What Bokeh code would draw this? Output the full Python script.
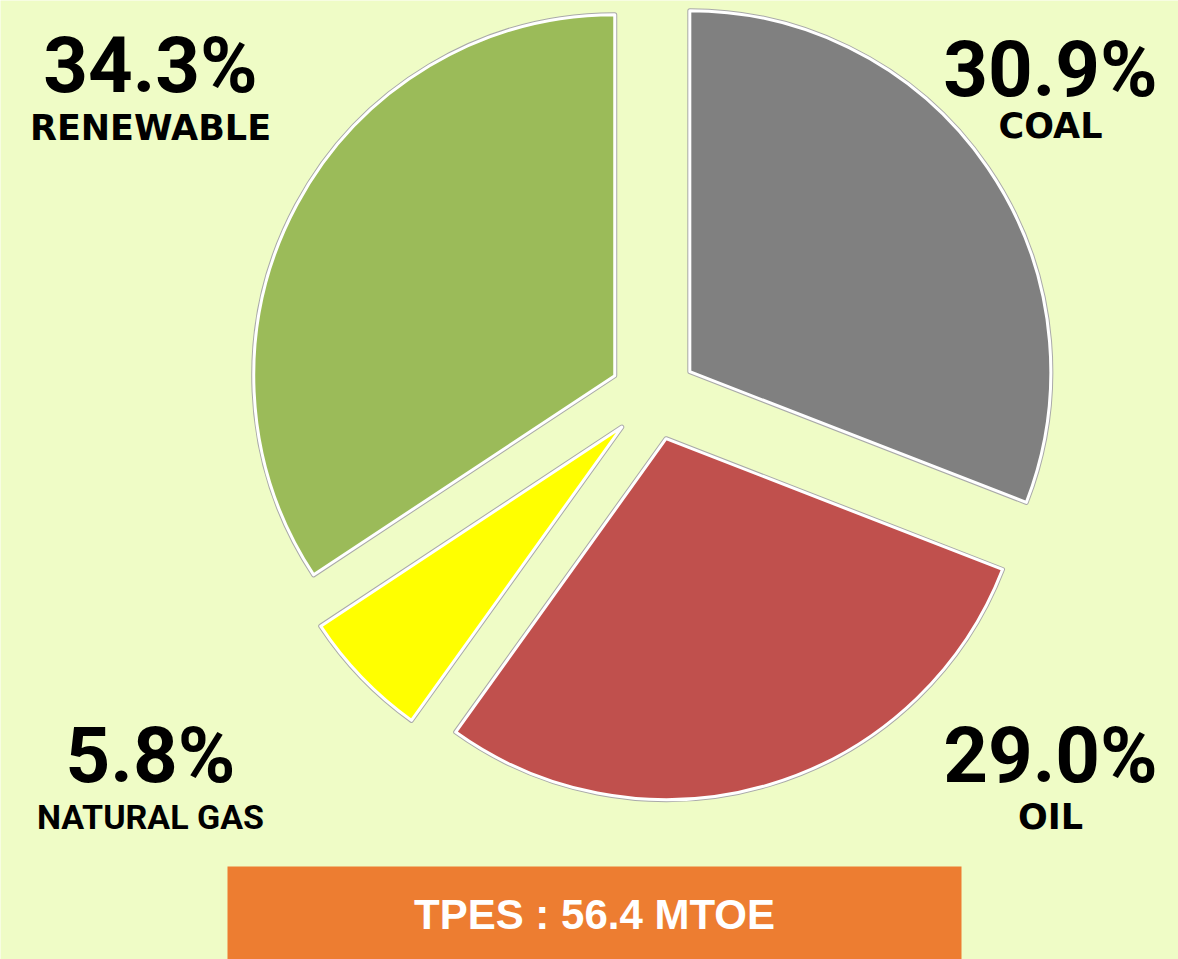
import numpy as np
from bokeh.plotting import figure
from bokeh.models import Range1d, ColumnDataSource
from bokeh.core.properties import value
from bokeh.embed import file_html
from bokeh.resources import INLINE

# ---- data ----
categories = ["COAL", "OIL", "NATURAL GAS", "RENEWABLE"]
shares = [30.9, 29.0, 5.8, 34.3]
colors = ["#808080", "#C0504D", "#FFFF00", "#9BBB59"]
share_labels = ["30.9%", "29.0%", "5.8%", "34.3%"]
total_label = "TPES : 56.4 MTOE"

# ---- layout constants ----
W, H = 1178, 959
BG = "#EFFCC6"
CX, CY = 653, H - 396
R = 361
EXPLODE = 44
SHIFT = 0.34  # baseline correction (fraction of font size)

frac = np.array(shares) / np.sum(shares)
cum = np.cumsum(frac) * 2 * np.pi
start = np.pi / 2 - np.concatenate([[0], cum[:-1]])
end = np.pi / 2 - cum
mid = (start + end) / 2

src = ColumnDataSource(dict(
    x=CX + EXPLODE * np.cos(mid),
    y=CY + EXPLODE * np.sin(mid),
    start=start, end=end, color=colors, cat=categories,
))

p = figure(width=W, height=H, x_range=Range1d(0, W), y_range=Range1d(0, H),
           output_backend="svg", toolbar_location=None, min_border=0,
           x_axis_type=None, y_axis_type=None,
           background_fill_color=BG, border_fill_color=BG, outline_line_color=None)
p.grid.visible = False

p.wedge(x="x", y="y", radius=R, start_angle="start", end_angle="end", direction="clock",
        fill_color="color", line_color="#A9A9A9", line_width=5, line_join="round", source=src)
p.wedge(x="x", y="y", radius=R, start_angle="start", end_angle="end", direction="clock",
        fill_color="color", line_color="white", line_width=3, line_join="round", source=src)


def put(x, base, txt, font, size, color="black"):
    p.text(x=[x], y=[H - (base - SHIFT * size)], text=[txt], text_font=value(font),
           text_font_style="bold", text_font_size=f"{size}px", text_align="center",
           text_baseline="alphabetic", text_color=color)


# label positions (x center, baseline in screen px) per category
lab_x = [1050, 1050, 150, 150]
pct_base = [96, 782, 782, 92]
name_base = [137, 828, 828, 139]
name_fonts = ["DejaVu Sans", "DejaVu Sans", "Roboto", "DejaVu Sans"]
name_sizes = [35, 35, 34, 35]

for i in range(4):
    put(lab_x[i], pct_base[i], share_labels[i], "Roboto", 78)
    put(lab_x[i], name_base[i], categories[i], name_fonts[i], name_sizes[i])

# total box
p.quad(left=[227], right=[961], bottom=[0], top=[H - 866], fill_color="#ED7D31", line_color=None)
put(594, 928, total_label, "Liberation Sans", 42, "white")

open("out.html", "w").write(file_html(p, INLINE))
